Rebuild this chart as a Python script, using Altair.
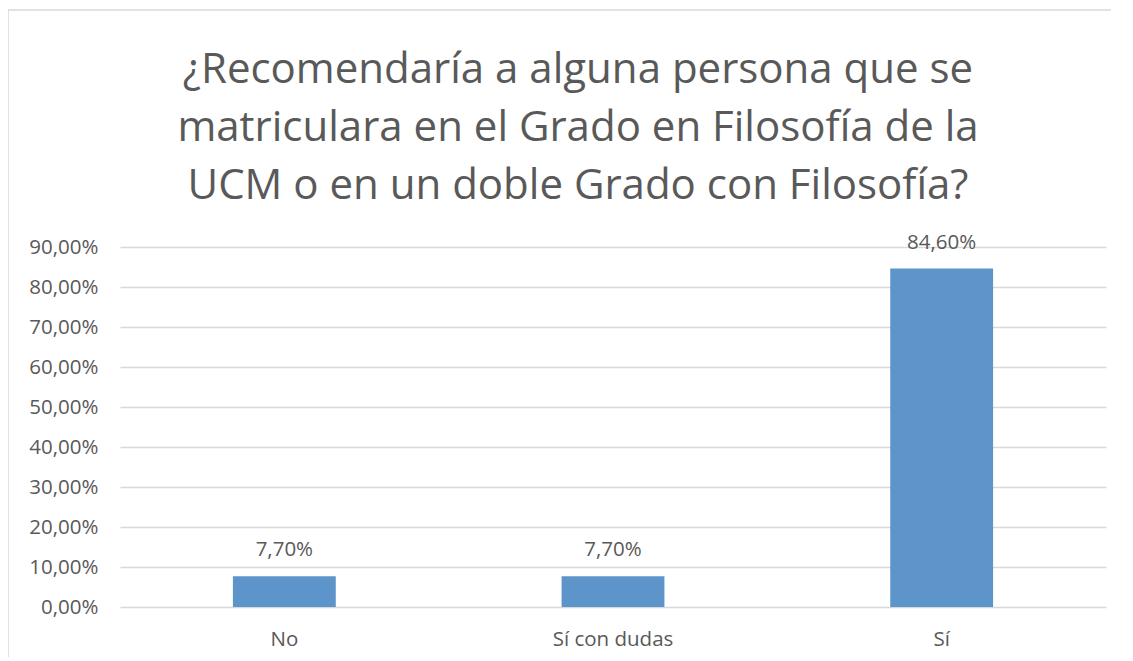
import altair as alt
import pandas as pd

categories = ["No", "Sí con dudas", "Sí"]
values = [0.077, 0.077, 0.846]
title_lines = [
    "¿Recomendaría a alguna persona que se",
    "matriculara en el Grado en Filosofía de la",
    "UCM o en un doble Grado con Filosofía?",
]

FONT = "Open Sans"
TXT = "#595959"
FS = 20.5

df = pd.DataFrame({"cat": categories, "val": values})

base = alt.Chart(df).encode(
    x=alt.X("cat:N", sort=categories, title=None,
            scale=alt.Scale(paddingInner=0.687, paddingOuter=0.3435),
            axis=alt.Axis(labelAngle=0, domain=False, ticks=False, labelPadding=22,
                          labelFontSize=FS, labelColor=TXT, labelFont=FONT, grid=False)),
    y=alt.Y("val:Q", title=None,
            scale=alt.Scale(domain=[0, 0.9], nice=False),
            axis=alt.Axis(values=[i / 10 for i in range(10)], domain=False, ticks=False,
                          labelPadding=22, labelFontSize=FS, labelColor=TXT, labelFont=FONT,
                          labelExpr="replace(format(datum.value, '.2%'), '.', ',')",
                          gridColor="#d9d9d9", gridWidth=1.5)),
)

bars = base.mark_bar(color="#5D95CA")
labels = base.transform_calculate(
    lbl="replace(format(datum.val, '.2%'), '.', ',')"
).mark_text(dy=-20, baseline="alphabetic", fontSize=FS, color=TXT, font=FONT).encode(
    text="lbl:N"
)

frame = alt.Chart(pd.DataFrame({"a": [0]})).mark_rect(
    fill=None, stroke="#d9d9d9", strokeWidth=1.5, clip=False
).encode(
    x=alt.value(-112), x2=alt.value(1040), y=alt.value(-237), y2=alt.value(430)
)

chart = alt.layer(frame, bars, labels).properties(
    width=986,
    height=360,
    title=alt.Title(text=title_lines, fontSize=42, lineHeight=58, color=TXT, font=FONT,
                    fontWeight="normal", anchor="middle", baseline="bottom", offset=-241,
                    dx=-35),
    autosize=alt.AutoSizeParams(type="none"),
    padding={"left": 112, "top": 239, "right": 5, "bottom": 50},
).configure_view(stroke=None)

chart.save("out.html", embed_options={"renderer": "svg", "actions": False})
